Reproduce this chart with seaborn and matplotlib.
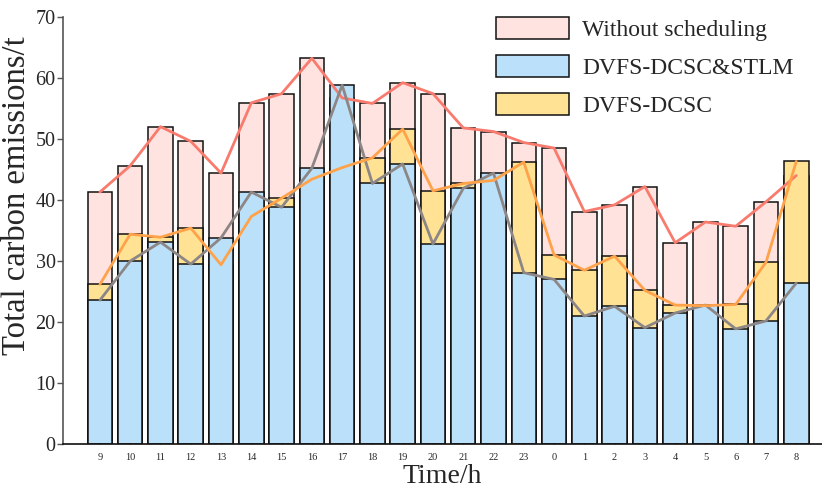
import numpy as np
import pandas as pd
import matplotlib
matplotlib.use("Agg")
import matplotlib.pyplot as plt
import seaborn as sns
from matplotlib.patches import Patch

hours = ["9", "10", "11", "12", "13", "14", "15", "16", "17", "18", "19", "20",
         "21", "22", "23", "0", "1", "2", "3", "4", "5", "6", "7", "8"]
without_sched = [41.3, 45.6, 52.0, 49.6, 44.4, 55.9, 57.4, 63.2, 56.7, 55.8, 59.2, 57.4,
                 51.8, 51.2, 49.4, 48.5, 38.1, 39.2, 42.2, 33.0, 36.4, 35.7, 39.7, 44.0]
dvfs_dcsc = [26.2, 34.4, 33.9, 35.4, 29.4, 37.3, 40.3, 43.4, 45.3, 46.9, 51.6, 41.5,
             42.7, 43.2, 46.2, 31.0, 28.5, 30.8, 25.2, 22.8, 22.7, 22.9, 29.8, 46.3]
dvfs_dcsc_stlm = [23.6, 30.0, 33.1, 29.5, 33.8, 41.3, 38.8, 45.2, 58.8, 42.7, 45.9, 32.8,
                  41.9, 44.4, 28.1, 27.0, 21.0, 22.6, 19.1, 21.5, 22.8, 18.9, 20.2, 26.4]
series_names = ["Without scheduling", "DVFS-DCSC&STLM", "DVFS-DCSC"]

c_pink, c_blue, c_yellow = "#FFE3E1", "#BBE1FA", "#FFE294"
c_red, c_orange, c_gray = "#F87B6E", "#FFA24A", "#8C8686"

sns.set_style("white")
plt.rcParams["font.family"] = ["Liberation Serif", "DejaVu Serif"]
plt.rcParams["mathtext.fontset"] = "stix"

fig = plt.figure(figsize=(8.22, 4.91), dpi=100)
ax = fig.add_axes([0.077, 0.095, 0.923, 0.871])

bar_kw = dict(order=hours, width=0.81, saturation=1, edgecolor="#111111",
              linewidth=1.1, ax=ax)
sns.barplot(x=hours, y=without_sched, color=c_pink, **bar_kw)
sns.barplot(x=hours, y=dvfs_dcsc, color=c_yellow, **bar_kw)
sns.barplot(x=hours, y=dvfs_dcsc_stlm, color=c_blue, **bar_kw)

line_kw = dict(order=hours, errorbar=None, marker="", linestyle="-", linewidth=2.0, ax=ax)
sns.pointplot(x=hours, y=without_sched, color=c_red, **line_kw)
sns.pointplot(x=hours, y=dvfs_dcsc_stlm, color=c_gray, **line_kw)
sns.pointplot(x=hours, y=dvfs_dcsc, color=c_orange, **line_kw)

ax.set_xlim(-1.21, 23.85)
ax.set_ylim(0, 70)
ax.set_yticks(np.arange(0, 71, 10))

sns.despine(ax=ax, top=True, right=True)
ax.spines["left"].set_color("#555555")
ax.spines["left"].set_linewidth(1.2)
ax.spines["bottom"].set_color("#111111")
ax.spines["bottom"].set_linewidth(1.2)

ax.tick_params(axis="x", direction="in", length=4.5, width=1.0, color="#555555",
               labelsize=7.5, pad=6, bottom=True)
ax.tick_params(axis="y", direction="out", length=4.5, width=1.0, color="#555555",
               labelsize=14.5, pad=1, left=True)

ax.set_xlabel("Time/h", fontsize=20, labelpad=2)
ax.set_ylabel("Total carbon emissions/t", fontsize=23.5)
ax.yaxis.set_label_coords(-0.041, (444.3 - 196) / 427.6)

handles = [Patch(facecolor=c, edgecolor="#111111", linewidth=1.1)
           for c in (c_pink, c_blue, c_yellow)]
ax.legend(handles, series_names, loc="upper left", bbox_to_anchor=(495.7 / 822, 1 - 17 / 491),
          bbox_transform=fig.transFigure, frameon=False, fontsize=17,
          handlelength=3.1, handleheight=1.05, handletextpad=0.55,
          labelspacing=0.6, borderpad=0, borderaxespad=0)

fig.savefig("out.png", dpi=100)
